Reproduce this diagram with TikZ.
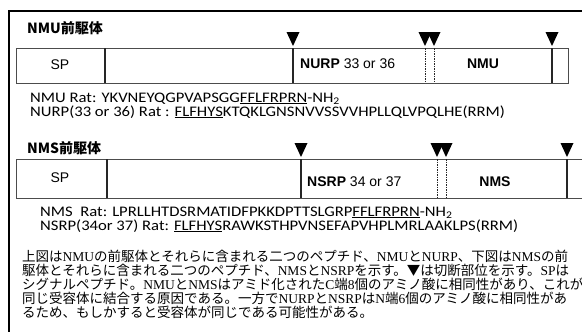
\documentclass[tikz,border=0pt]{standalone}
\usepackage{fontspec}
\setmainfont{Liberation Sans}
\newfontfamily\jpfont{Noto Sans CJK JP}
\newfontfamily\seqfont{Carlito}
\newfontfamily\serf{Liberation Serif}
\newcommand\lat[1]{{\serf #1}}
\newcommand\wide[1]{\scalebox{1.14}[1]{#1}}
\tikzset{
  frameline/.style={draw=black, line width=2pt},
  boxline/.style={draw=black!70, line width=0.9pt},
  divline/.style={draw=black!85, line width=1.3pt},
  dotline/.style={draw=black!85, line width=1pt, dash pattern=on 1.5pt off 1pt},
  cutmark/.style={fill=black},
  head/.style={anchor=base west, font=\jpfont\bfseries\fontsize{14}{14}\selectfont, inner sep=0pt},
  lab/.style={anchor=base, font=\fontsize{14}{14}\selectfont, inner sep=0pt},
  labw/.style={anchor=base west, font=\fontsize{14}{14}\selectfont, inner sep=0pt},
  seq/.style={anchor=base west, align=left, font=\seqfont\fontsize{14.6}{12.5}\selectfont, inner sep=0pt},
  jtext/.style={anchor=base west, font=\jpfont\fontsize{13.5}{13.5}\selectfont, inner sep=0pt},
}
\newcommand\cutat[2]{\fill[cutmark] (#1-6.5,#2-14) -- (#1+6.5,#2-14) -- (#1,#2) -- cycle;}
\begin{document}
\begin{tikzpicture}[x=1pt,y=-1pt]
\useasboundingbox (0,0) rectangle (582,332);
\fill[white] (0,0) rectangle (582,332);
% outer frame
\draw[frameline] (9,345) -- (9,11) -- (595,11);

% ---------- NMU precursor ----------
\node[head] (h1) at (27,34) {NMU前駆体};
\draw[boxline] (16,48) rectangle (568,83);
\draw[divline] (105,48) -- (105,83);
\draw[divline] (293,48) -- (293,83);
\draw[dotline] (425,48) -- (425,83);
\draw[dotline] (434,48) -- (434,83);
\draw[divline] (552,48) -- (552,83);
\cutat{293}{46}
\cutat{425}{46}
\cutat{434}{46}
\cutat{552}{46}
\node[lab] (sp1) at (60,70) {SP};
\node[labw] (nurp) at (300,68) {\textbf{NURP} 33 or 36};
\node[lab] (nmu) at (483,68) {\textbf{NMU}};
\node[seq] (s1) at (30,116) {\wide{NMU Rat: YKVNEYQGPVAPSGG\underline{FFLFRPRN}-NH\textsubscript{2}}\\
\wide{NURP(33 or 36) Rat : \underline{FLFHYS}KTQKLGNSNVVSSVVHPLLQLVPQLHE(RRM)}};

% ---------- NMS precursor ----------
\node[head] (h2) at (27,153) {NMS前駆体};
\draw[boxline] (16,159) -- (595,159);
\draw[boxline] (16,198) -- (595,198);
\draw[boxline] (16,159) -- (16,198);
\draw[divline] (107,159) -- (107,198);
\draw[divline] (301,159) -- (301,198);
\draw[dotline] (437,159) -- (437,198);
\draw[dotline] (446,159) -- (446,198);
\draw[divline] (567,159) -- (567,198);
\cutat{301}{157}
\cutat{437}{157}
\cutat{446}{157}
\cutat{567}{157}
\node[lab] (sp2) at (60,182) {SP};
\node[labw] (nsrp) at (307,186) {\textbf{NSRP} 34 or 37};
\node[lab] (nms) at (495,186) {\textbf{NMS}};
\node[seq] (s3) at (40,230) {\wide{NMS\ \ Rat: LPRLLHTDSRMATIDFPKKDPTTSLGRP\underline{FFLFRPRN}-NH\textsubscript{2}}\\
\wide{NSRP(34or 37) Rat: \underline{FLFHYS}RAWKSTHPVNSEFAPVHPLMRLAAKLPS(RRM)}};

% ---------- explanation ----------
\node[jtext] (j1) at (22,261) {上図は\lat{NMU}の前駆体とそれらに含まれる二つのペプチド、\lat{NMU}と\lat{NURP}、下図は\lat{NMS}の前};
\node[jtext] (j2) at (22,275) {駆体とそれらに含まれる二つのペプチド、\lat{NMS}と\lat{NSRP}を示す。▼は切断部位を示す。\lat{SP}は};
\node[jtext] (j3) at (22,289) {シグナルペプチド。\lat{NMU}と\lat{NMS}はアミド化された\lat{C}端\lat{8}個のアミノ酸に相同性があり、これが};
\node[jtext] (j4) at (22,303) {同じ受容体に結合する原因である。一方で\lat{NURP}と\lat{NSRP}は\lat{N}端\lat{6}個のアミノ酸に相同性があ};
\node[jtext] (j5) at (22,317) {るため、もしかすると受容体が同じである可能性がある。};
\end{tikzpicture}
\end{document}
